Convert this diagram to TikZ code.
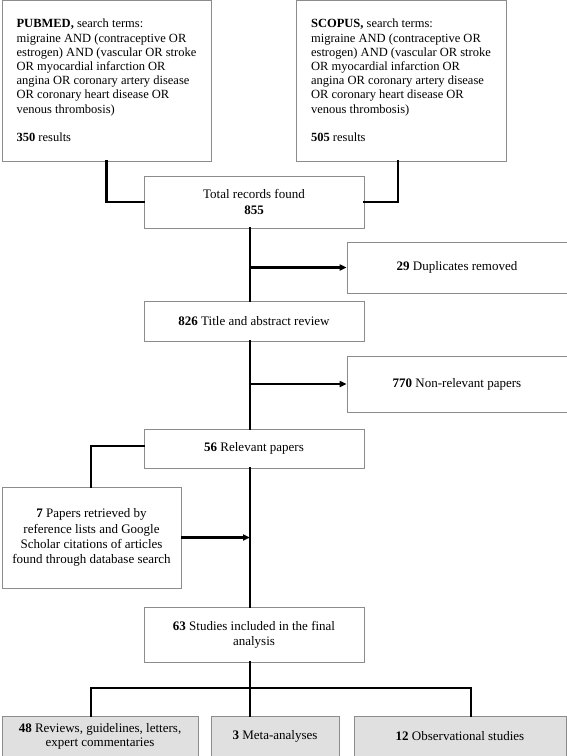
\documentclass[tikz,border=0pt]{standalone}
\usepackage{fontspec}
\setmainfont{Liberation Serif}
\usetikzlibrary{arrows.meta}
\begin{document}
\begin{tikzpicture}[x=1pt,y=-1pt,
  box/.style={draw=black!45, line width=0.7pt, fill=white, inner sep=0pt, font=\fontsize{13}{15.2}\selectfont},
  sbox/.style={box, font=\fontsize{12.5}{14.2}\selectfont},
  gbox/.style={box, fill=black!12, font=\fontsize{13}{14}\selectfont},
  conn/.style={line width=2.6pt, line cap=rect},
  arr/.style={line width=2.6pt, -{Triangle[length=7pt,width=6pt]}}]
\useasboundingbox (0,0) rectangle (567,756);
\coordinate (mx) at (250,0);
\node[sbox, minimum width=209, minimum height=161, align=left] (pub) at (106.5,80.5)
 {\textbf{PUBMED,} search terms:\\migraine AND (contraceptive OR\\estrogen) AND (vascular OR stroke\\OR myocardial infarction OR\\angina OR coronary artery disease\\OR coronary heart disease OR\\venous thrombosis)\\[14.2pt]\textbf{350} results};
\node[sbox, minimum width=210, minimum height=161, align=left] (sco) at (401,80.5)
 {\textbf{SCOPUS,} search terms:\\migraine AND (contraceptive OR\\estrogen) AND (vascular OR stroke\\OR myocardial infarction OR\\angina OR coronary artery disease\\OR coronary heart disease OR\\venous thrombosis)\\[14.2pt]\textbf{505} results};
\node[box, minimum width=220, minimum height=52, align=center] (tot) at (254,202) {Total records found\\\textbf{855}};
\node[box, minimum width=220, minimum height=51] (dup) at (457,267.5) {\textbf{29} Duplicates removed};
\node[box, minimum width=220, minimum height=40] (tit) at (254,321) {\textbf{826} Title and abstract review};
\node[box, minimum width=220, minimum height=56] (non) at (457,384) {\textbf{770} Non-relevant papers};
\node[box, minimum width=220, minimum height=39] (rel) at (254,448.5) {\textbf{56} Relevant papers};
\node[box, minimum width=179, minimum height=101, align=center] (sev) at (91.5,537.5)
 {\textbf{7} Papers retrieved by\\reference lists and Google\\Scholar citations of articles\\found through database search};
\node[box, minimum width=220, minimum height=55, align=center] (six) at (254,634.5) {\textbf{63} Studies included in the final\\analysis};
\node[gbox, minimum width=196, minimum height=40, align=center] (r48) at (100,736) {\textbf{48} Reviews, guidelines, letters,\\expert commentaries};
\node[gbox, minimum width=128, minimum height=40] (m3) at (275,736) {\textbf{3} Meta-analyses};
\node[gbox, minimum width=212, minimum height=40] (o12) at (460,736) {\textbf{12} Observational studies};
\coordinate (busL) at (91,688);
\coordinate (busR) at (471,688);
\draw[conn] (pub.south) |- (tot.west);
\draw[conn] ([xshift=-3pt]sco.south) |- (tot.east);
\draw[conn] (tot.south -| mx) -- (tit.north -| mx);
\coordinate (j1) at (mx |- dup.west);
\draw[arr] (j1) -- (dup.west);
\draw[conn] (tit.south -| mx) -- (rel.north -| mx);
\coordinate (j2) at (mx |- non.west);
\draw[arr] (j2) -- (non.west);
\draw[conn] ([yshift=2.5pt]rel.west) -| (sev.north -| busL);
\draw[conn] (rel.south -| mx) -- (six.north -| mx);
\draw[arr] (sev.east) -- (sev.east -| mx);
\draw[conn] (six.south -| mx) -- (m3.north -| mx);
\draw[conn] (busL |- r48.north) -- (busL) -- (busR) -- (busR |- o12.north);
\end{tikzpicture}
\end{document}
